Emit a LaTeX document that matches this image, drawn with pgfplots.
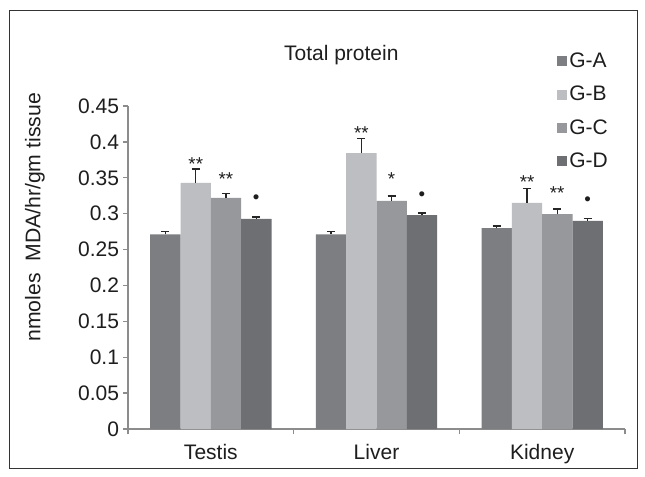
\documentclass[border=0pt]{standalone}
\usepackage{pgfplots}
\pgfplotsset{compat=1.18}
\usepackage{fontspec}
\setmainfont{Liberation Sans}
\definecolor{ga}{HTML}{7D7E82}
\definecolor{gb}{HTML}{BDBEC2}
\definecolor{gc}{HTML}{97989C}
\definecolor{gd}{HTML}{6E6F73}
\definecolor{txt}{HTML}{1E1E1E}
\definecolor{axgray}{HTML}{8C8C8C}
\begin{document}
\begin{tikzpicture}
% page and frame (1px = 0.75pt)
\path[fill=white] (0pt,0pt) rectangle (483.75pt,-357pt);
\draw[color=black!80, line width=0.75pt] (6.75pt,-7.5pt) rectangle (477.75pt,-351pt);
\begin{axis}[
    at={(96pt,-321.75pt)}, anchor=south west,
    scale only axis,
    width=372.75pt, height=242.25pt,
    ybar=0pt, bar width=22.75pt,
    xmin=-0.5, xmax=2.5,
    ymin=0, ymax=0.45,
    axis x line=bottom, axis y line=left,
    axis line style={-, color=axgray, line width=1pt},
    xtick={0,1,2},
    xticklabels={Testis,Liver,Kidney},
    major x tick style={draw=none},
    minor xtick={-0.5,0.5,1.5,2.5},
    minor x tick style={color=axgray, line width=1pt},
    minor tick length=4pt,
    ytick={0,0.05,...,0.46},
    yticklabels={0,0.05,0.1,0.15,0.2,0.25,0.3,0.35,0.4,0.45},
    y tick style={color=axgray, line width=1pt},
    major tick length=3.75pt,
    tick align=outside,
    /pgf/number format/assume math mode=true,
    ticklabel style={font=\fontsize{15.75}{18}\selectfont, text=txt},
    yticklabel style={xshift=0.5pt},
    xticklabel style={yshift=-4.5pt},
    legend style={at={(0.862,1.174)}, anchor=north west, draw=none, fill=none,
        font=\fontsize{15.75}{18}\selectfont, text=txt,
        row sep=8.6pt, inner sep=0pt},
    legend cell align=left,
    legend image code/.code={\fill[#1, draw=none] (0pt,-3.75pt) rectangle (7.5pt,3.75pt);},
    error bars/y dir=plus,
    error bars/y explicit,
    error bars/error bar style={color=black!85, line width=1.1pt},
    error bars/error mark options={color=black!85, line width=1.1pt, mark size=3.1pt, rotate=90},
    clip=false,
]
\addplot[fill=ga, draw=none] coordinates {(0,0.271) +- (0,0.004) (1,0.271) +- (0,0.004) (2,0.280) +- (0,0.003)};
\addlegendentry{G-A}
\addplot[fill=gb, draw=none] coordinates {(0,0.343) +- (0,0.019) (1,0.3845) +- (0,0.020) (2,0.315) +- (0,0.020)};
\addlegendentry{G-B}
\addplot[fill=gc, draw=none] coordinates {(0,0.322) +- (0,0.006) (1,0.3177) +- (0,0.007) (2,0.2995) +- (0,0.007)};
\addlegendentry{G-C}
\addplot[fill=gd, draw=none] coordinates {(0,0.2926) +- (0,0.003) (1,0.298) +- (0,0.003) (2,0.290) +- (0,0.003)};
\addlegendentry{G-D}
% significance marks
\begin{scope}[every node/.style={text=txt, font=\fontsize{14}{14}\selectfont, anchor=base, inner sep=0pt}]
\node at (axis cs:-0.091,0.3606) {**};
\node at (axis cs:0.091,0.3397) {**};
\node at (axis cs:0.274,0.3144) {•};
\node at (axis cs:0.909,0.4037) {**};
\node at (axis cs:1.091,0.3387) {*};
\node at (axis cs:1.274,0.3189) {•};
\node at (axis cs:1.909,0.3355) {**};
\node at (axis cs:2.091,0.3201) {**};
\node at (axis cs:2.274,0.3119) {•};
\end{scope}
\end{axis}
% title and y label
\node[text=txt, font=\fontsize{15.75}{18}\selectfont, anchor=base] at (256pt,-45.5pt) {Total protein};
\node[text=txt, font=\fontsize{15.9}{18}\selectfont, rotate=90] at (26.25pt,-163pt) {nmoles\ \ MDA/hr/gm tissue};
\end{tikzpicture}
\end{document}
